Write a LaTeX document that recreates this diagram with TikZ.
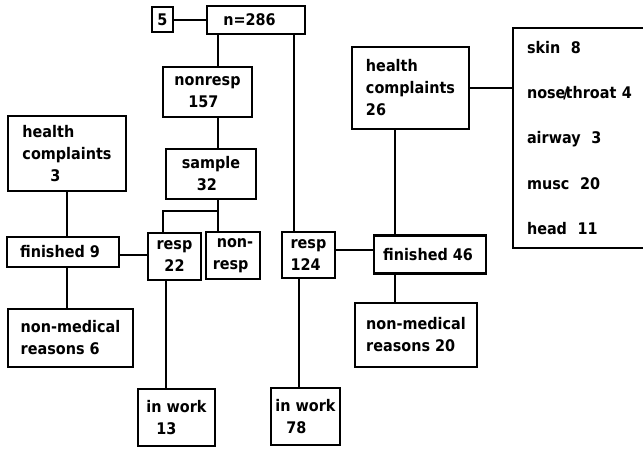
\documentclass[tikz,border=0pt]{standalone}
\usepackage{fontspec}
\setmainfont{DejaVu Sans}[FakeStretch=0.9]
\begin{document}
\begin{tikzpicture}[x=1pt,y=-1pt,
  box/.style={draw, line width=2.1pt, inner sep=0pt, align=left,
    font=\bfseries\fontsize{16}{22}\selectfont},
  cbox/.style={box, align=center},
  link/.style={line width=2pt}]
\useasboundingbox (0,0) rectangle (643,448);
% boxes
\node[box, minimum width=21, minimum height=25] (five) at (162.5,19.5) {5};
\node[box, minimum width=98, minimum height=28] (n286) at (256,20) {n=286\hspace{13pt}};
\node[box, minimum width=89, minimum height=50] (nonresp) at (207.5,92) {nonresp\\\hspace{14pt}157};
\node[box, minimum width=90, minimum height=50] (sample) at (211,174) {sample\\\hspace{15pt}32};
\node[cbox, minimum width=53, minimum height=47] (resp22) at (174.5,256.5) {resp\\22};
\node[box, minimum width=54, minimum height=47] (nonresp2) at (233,255.5) {\hspace{4pt}non-\\resp};
\node[box, minimum width=53, minimum height=46] (resp124) at (308.5,255) {resp\\124};
\node[box, minimum width=77, minimum height=57] (inwork13) at (176.5,417.5) {in work\\\hspace{10pt}13};
\node[box, minimum width=69, minimum height=57] (inwork78) at (305.5,416.5) {in work\\\hspace{11pt}78};
\node[box, minimum width=118, minimum height=75] (hc3) at (67,153.5) {health\\complaints\\\hspace{28pt}3};
\node[box, minimum width=112, minimum height=30] (fin9) at (63,252) {finished 9\hspace{6pt}};
\node[box, minimum width=125, minimum height=58] (nm6) at (70.5,338) {non-medical\\reasons 6};
\node[box, minimum width=117, minimum height=82] (hc26) at (410.5,88) {health\\complaints\\26};
\node[box, minimum width=112, minimum height=38] (fin46) at (430,254.5) {finished 46\hspace{4pt}};
\node[box, minimum width=122, minimum height=64] (nm20) at (416,335) {non-medical\\reasons 20};
\node[box, minimum width=140, minimum height=220, text width=112pt, inner xsep=14pt,
  font=\bfseries\fontsize{16}{45.3}\selectfont] (big) at (583,138)
  {skin~~8\\nose\kern-2pt/\kern-3pt throat 4\\airway~~3\\musc~~20\\head~~11};
% column helpers
\coordinate (cA) at (218,0);
\coordinate (cB) at (294,0);
\coordinate (cD) at (166,0);
\coordinate (cE) at (299,0);
\coordinate (j) at (163,211);
\coordinate (rA) at (0,255);
\coordinate (rB) at (0,250);
\coordinate (cF) at (394.5,0);
% connectors
\draw[link] (five.east) -- (five.east -| n286.west);
\draw[link] (n286.south -| cA) -- (nonresp.north -| cA);
\draw[link] (n286.south -| cB) -- (resp124.north -| cB);
\draw[link] (nonresp.south -| cA) -- (sample.north -| cA);
\draw[link] (sample.south -| cA) -- (nonresp2.north -| cA);
\draw[link] (j -| cA) -- (j) -- (resp22.north -| j);
\draw[link] (resp22.south -| cD) -- (inwork13.north -| cD);
\draw[link] (resp124.south -| cE) -- (inwork78.north -| cE);
\draw[link] (hc3.south) -- (fin9.north -| hc3.south);
\draw[link] ([xshift=4pt]fin9.south) -- ([xshift=4pt]fin9.south |- nm6.north);
\draw[link] (fin9.east |- rA) -- (resp22.west |- rA);
\draw[link] (resp124.east |- rB) -- (fin46.west |- rB);
\draw[link] (hc26.east) -- (hc26.east -| big.west);
\draw[link] (hc26.south -| cF) -- (fin46.north -| cF);
\draw[link] (fin46.south -| cF) -- (nm20.north -| cF);
\end{tikzpicture}
\end{document}
